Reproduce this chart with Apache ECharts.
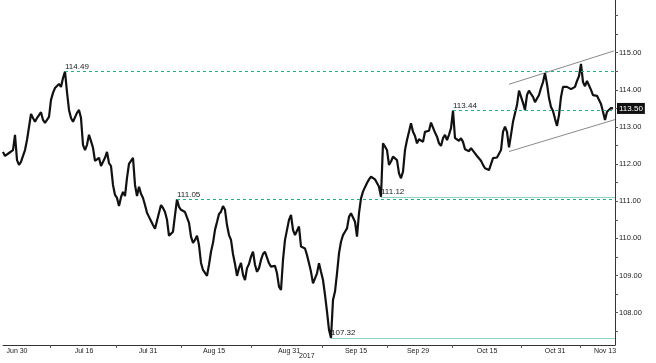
<!DOCTYPE html>
<html>
<head>
<meta charset="utf-8">
<script src="https://cdn.jsdelivr.net/npm/echarts@6/dist/echarts.min.js"></script>
<style>
  html, body { margin: 0; padding: 0; background: #fff; }
  #chart { width: 656px; height: 363px; }
</style>
</head>
<body>
<div id="chart"></div>
<script>
// price samples, evenly spaced in time (Jun 28 .. Nov 13 2017)
const prices = [
  112.33, 112.22, 112.19, 112.30, 112.25, 112.38, 112.79, 112.11, 111.98, 112.06,
  112.22, 112.38, 112.65, 113.00, 113.35, 113.24, 113.14, 113.24, 113.19, 113.40,
  113.19, 113.11, 113.14, 113.27, 113.73, 113.92, 114.05, 114.10, 114.16, 114.08,
  114.32, 114.49, 113.94, 113.46, 113.24, 113.14, 113.19, 113.38, 113.46, 113.24,
  112.52, 112.38, 112.52,
  112.79, 112.62, 112.44, 112.09, 112.09, 112.17, 111.95, 111.90, 112.17, 112.33,
  112.03, 111.95, 111.44, 111.17, 111.09, 110.87, 111.11, 111.25, 111.14, 111.63,
  112.01, 111.98, 112.17, 111.44, 111.14, 111.39, 111.20, 111.09, 110.90, 110.69,
  110.58, 110.47, 110.36, 110.26, 110.28, 110.69, 110.90, 110.82, 110.71, 110.50,
  110.07, 110.09, 110.18, 110.63,
  111.05, 110.85, 110.77, 110.82, 110.71, 110.69, 110.42, 110.05, 109.88, 109.96,
  110.07, 109.82, 109.34, 109.15, 109.07, 108.99, 109.29, 109.64, 109.88, 110.23,
  110.44, 110.66, 110.72, 110.87, 110.77, 110.36, 110.09, 109.96, 109.58, 109.31,
  108.99, 109.20, 109.34, 109.02, 108.88, 109.20, 109.31, 109.51, 109.64, 109.29,
  109.10, 109.20, 109.42, 109.58,
  109.64, 109.61, 109.33, 109.24, 109.20, 109.26, 109.06, 108.70, 108.61, 109.42,
  109.96, 110.23, 110.50, 110.63, 110.23, 110.09, 110.09, 110.32, 109.78, 109.73,
  109.73, 109.55, 109.33, 109.10, 108.79, 108.75, 109.06, 109.33, 109.10, 108.88,
  108.48, 108.03, 107.54, 107.32, 108.34, 108.57, 109.06, 109.60, 109.91, 110.09,
  110.18, 110.27, 110.58, 110.68, 110.63,
  110.45, 110.05, 110.68, 111.08, 111.26, 111.38, 111.49, 111.59, 111.66, 111.71,
  111.59, 111.49, 111.39, 111.12, 112.56, 112.51, 112.38, 111.98, 112.07, 112.20,
  112.25, 112.11, 111.75, 111.62, 111.80, 112.38, 112.65, 112.87, 113.10, 112.87,
  112.76, 112.56, 112.67, 112.65, 112.60, 112.87, 112.83, 112.90, 113.12, 113.10,
  112.85, 112.74, 112.56, 112.49,
  112.70, 112.79, 112.65, 112.79, 112.97, 113.44, 112.70, 112.70, 112.63, 112.70,
  112.60, 112.40, 112.45, 112.35, 112.43, 112.43, 112.29, 112.22, 112.18, 112.09,
  111.98, 111.89, 111.89, 111.84, 111.89, 112.16, 112.11, 112.18, 112.20, 112.38,
  112.87, 113.01, 112.87, 112.45, 112.79, 113.14, 113.37, 113.59, 113.98, 113.82,
  113.65, 113.46, 113.86, 113.98,
  113.89, 113.81, 113.67, 113.65, 113.86, 114.05, 114.21, 114.45, 114.16, 113.78,
  113.54, 113.43, 113.22, 113.03, 113.32, 113.81, 114.08, 114.10, 114.08, 114.10,
  114.02, 114.00, 114.08, 114.24, 114.37, 114.70, 114.21, 114.10, 114.24, 114.21,
  114.00, 113.86, 113.84, 113.84, 113.81, 113.62, 113.41, 113.19, 113.41, 113.43,
  113.51, 113.50
];

const xTickLabels = ['Jun 30', 'Jul 16', 'Jul 31', 'Aug 15', 'Aug 31', 'Sep 15', 'Sep 29', 'Oct 15', 'Oct 31', 'Nov 13'];
const xTickPos = [7, 40.5, 72.5, 105.5, 143, 176.5, 207.5, 242, 276, 301];

const yLabels = [108, 109, 110, 111, 112, 113, 114, 115];
const yTicks = [107.5, 108, 108.5, 109, 109.5, 110, 110.5, 111, 111.5, 112, 112.5, 113, 113.5, 114, 114.5, 115, 115.5, 116];

// support / resistance levels (start at the bar that made them)
const levels = [114.49, 111.05, 113.44, 111.12, 107.32];
const levelDashed = [true, true, true, false, false];

// trend channel
const channelUpper = [[253, 114.15], [305.5, 115.05]];
const channelLower = [[253, 112.34], [306, 113.2]];

const FONT = "'Liberation Sans Narrow', 'Liberation Sans', Arial, sans-serif";
const xMax = prices.length;
const last = prices[prices.length - 1];
const midTicks = xTickPos.slice(1).map((v, i) => (v + xTickPos[i]) / 2);

const levelLines = levels.map((lv, k) => {
  const ls = {
    color: levelDashed[k] ? '#2fa884' : '#8fd3bc',
    type: levelDashed[k] ? [3, 3] : 'solid',
    width: 1,
    opacity: 1
  };
  return [
    {
      coord: [prices.indexOf(lv), lv],
      lineStyle: ls,
      label: {
        show: true,
        position: 'insideStartTop',
        distance: [0, 1],
        formatter: lv.toFixed(2),
        color: '#222',
        fontFamily: FONT,
        fontSize: 8
      }
    },
    { coord: [xMax, lv], lineStyle: ls }
  ];
});

const chart = echarts.init(document.getElementById('chart'), null, { renderer: 'canvas' });
chart.setOption({
  animation: false,
  backgroundColor: '#fff',
  grid: { left: 3, right: 41, top: 0, bottom: 18 },
  xAxis: {
    type: 'value',
    min: 0,
    max: xMax,
    splitLine: { show: false },
    axisLine: { show: true, onZero: false, lineStyle: { color: '#333', width: 1 } },
    axisTick: { show: true, customValues: midTicks, length: 3, lineStyle: { color: '#555' } },
    axisLabel: {
      customValues: xTickPos,
      formatter: (v) => xTickLabels[xTickPos.indexOf(v)] || '',
      color: '#222',
      fontFamily: FONT,
      fontSize: 7,
      margin: 3
    }
  },
  yAxis: {
    type: 'value',
    position: 'right',
    min: 107.13,
    max: 116.42,
    splitLine: { show: false },
    axisLine: { show: true, onZero: false, lineStyle: { color: '#333', width: 1 } },
    axisTick: { show: true, customValues: yTicks, length: 3, lineStyle: { color: '#555' } },
    axisLabel: {
      customValues: yLabels,
      formatter: (v) => v.toFixed(2),
      color: '#222',
      fontFamily: FONT,
      fontSize: 7.5,
      margin: 4
    }
  },
  graphic: [
    { type: 'text', left: 299, top: 353, style: { text: '2017', fill: '#222', font: '7px ' + FONT } }
  ],
  series: [
    {
      type: 'line',
      data: prices.map((p, i) => [i, p]),
      showSymbol: false,
      lineStyle: { color: '#111', width: 2.2 },
      z: 3,
      markLine: {
        silent: true,
        symbol: ['none', 'none'],
        data: levelLines.concat([
          [
            {
              coord: [xMax - 1, last],
              lineStyle: { color: 'rgba(0,0,0,0)' },
              label: {
                show: true,
                position: 'end',
                distance: 2,
                formatter: last.toFixed(2),
                color: '#fff',
                backgroundColor: '#111',
                padding: [2, 2, 1, 2],
                fontFamily: FONT,
                fontSize: 8
              }
            },
            { coord: [xMax, last], lineStyle: { color: 'rgba(0,0,0,0)' } }
          ]
        ])
      }
    },
    {
      type: 'line',
      data: channelUpper,
      showSymbol: false,
      lineStyle: { color: '#8a8a8a', width: 1 },
      z: 2
    },
    {
      type: 'line',
      data: channelLower,
      showSymbol: false,
      lineStyle: { color: '#8a8a8a', width: 1 },
      z: 2
    }
  ]
});
</script>
</body>
</html>
